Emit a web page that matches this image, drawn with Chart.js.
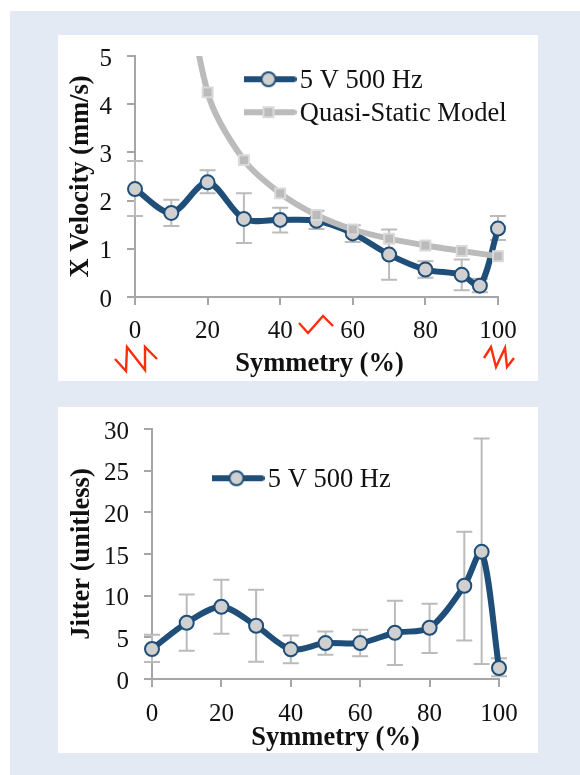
<!DOCTYPE html>
<html><head><meta charset="utf-8">
<script src="https://cdn.jsdelivr.net/npm/chart.js@4/dist/chart.umd.min.js"></script>
<style>
html,body{margin:0;padding:0;background:#fff;width:580px;height:775px;overflow:hidden}
#bg{position:absolute;left:10px;top:11px;width:570px;height:764px;background:#E3EAF4}
.p{position:absolute;left:58px;width:480px;background:#fff}
canvas{display:block}
svg{position:absolute;left:0;top:0;pointer-events:none}
</style></head><body>
<div id="bg"></div>
<div class="p" style="top:35px;height:346px"><canvas id="c1" width="480" height="346"></canvas></div>
<div class="p" style="top:407px;height:346px"><canvas id="c2" width="480" height="346"></canvas></div>
<svg width="580" height="775" fill="none" stroke="#FF2E0A" stroke-width="2.4">
<polyline points="115,359 126,371 127,347 145,370 145,347 157,359"/>
<polyline points="299,323 308,333 323,316 333,326"/>
<polyline points="484,358 491,347 496,367 505,348 507,367 514,358"/>
</svg>
<script>
const velSym=[0,10,20,30,40,50,60,70,80,90,95,100];
const velVal=[2.24,1.745,2.38,1.62,1.60,1.58,1.32,0.88,0.57,0.46,0.235,1.42];
const velHi=[2.82,2.02,2.63,2.15,1.85,1.79,1.49,1.40,0.74,0.78,0.38,1.68];
const velLo=[1.68,1.475,2.15,1.12,1.34,1.41,1.14,0.36,0.40,0.14,0.10,1.18];
const modelSym=[10,20,30,40,50,60,70,80,90,100];
const modelVal=[8.5,4.245,2.84,2.15,1.70,1.40,1.21,1.07,0.955,0.845];
const jitVal=[3.6,6.75,8.67,6.39,3.56,4.31,4.31,5.55,6.15,11.19,15.26,1.32];
const jitHi=[5.3,10.15,11.9,10.7,5.23,5.71,5.91,9.39,9.03,17.66,28.85,2.48];
const jitLo=[2.04,3.4,5.43,2.08,1.88,2.92,2.72,1.68,3.12,4.63,1.8,0.32];
const xTicks=[0,20,40,60,80,100];
const NAVY='#1F4E79',GREY='#BBBBBB',AXIS='#A6A6A6',MARK='#D0D0D0';
const FONT='"Liberation Serif"';
const zip=(a,b)=>a.map((x,i)=>({x,y:b[i]}));

function sample(kind){
  const c=document.createElement('canvas');c.width=56;c.height=25;const g=c.getContext('2d');
  g.lineCap='round';g.lineWidth=6;g.strokeStyle=kind==='m'?GREY:NAVY;
  g.beginPath();g.moveTo(3,11);g.lineTo(53,11);g.stroke();
  if(kind==='m'){g.fillStyle='#D9D9D9';g.fillRect(22,5,12,12);g.fillStyle=GREY;g.fillRect(24,7,8,8);}
  else{g.beginPath();g.arc(28,11,7,0,7);g.fillStyle=MARK;g.fill();g.lineWidth=2;g.stroke();}
  return c;
}
const errorBars={id:'errorBars',beforeDatasetsDraw(ch,_,o){
  const {ctx,scales:{x,y}}=ch;
  ctx.save();ctx.strokeStyle=GREY;ctx.lineWidth=2;
  o.sym.forEach((s,i)=>{
    const px=x.getPixelForValue(s),hi=y.getPixelForValue(o.hi[i]),lo=y.getPixelForValue(o.lo[i]);
    ctx.beginPath();ctx.moveTo(px,hi);ctx.lineTo(px,lo);
    ctx.moveTo(px-8,hi);ctx.lineTo(px+8,hi);ctx.moveTo(px-8,lo);ctx.lineTo(px+8,lo);ctx.stroke();
  });ctx.restore();
}};
const placer={id:'placer',afterLayout(ch,_,o){
  const l=ch.legend;l.left=o.lx;l.top=o.ly;l.right=ch.width;l.bottom=ch.height;
  const t=ch.scales.x;
  if(!t._wrapped){const d=t.drawTitle.bind(t);t._wrapped=true;
    t.drawTitle=function(){ch.ctx.save();ch.ctx.translate(o.tdx,o.tdy);d();ch.ctx.restore();};}
}};
function make(id,cfg){
  const tick={size:25,family:FONT};
  return new Chart(document.getElementById(id),{
    type:'line',
    data:{datasets:cfg.datasets},
    plugins:[errorBars,placer],
    options:{
      responsive:false,animation:false,
      layout:{padding:{left:cfg.left,right:cfg.right,top:cfg.top,bottom:0}},
      plugins:{
        tooltip:{enabled:false},
        errorBars:cfg.err,
        placer:{lx:cfg.lx,ly:cfg.ly,tdx:cfg.tdx,tdy:cfg.tdy},
        legend:{position:'chartArea',align:'start',
          labels:{usePointStyle:true,pointStyleWidth:36,boxHeight:22,padding:6.5,color:'#111',
            font:{size:26.5,family:FONT},
            generateLabels:(ch)=>ch.data.datasets.map((d,i)=>({text:d.label,pointStyle:sample(d.kind),datasetIndex:i,fontColor:'#111',lineWidth:0,strokeStyle:'transparent',fillStyle:'transparent'}))}}
      },
      scales:{
        x:{type:'linear',min:0,max:100,
          afterBuildTicks:s=>{s.ticks=xTicks.map(v=>({value:v}));},
          grid:{drawOnChartArea:false,color:AXIS,lineWidth:2,tickLength:8},
          border:{color:AXIS,width:2},
          ticks:{font:tick,color:'#111',padding:cfg.xpad,maxRotation:0,autoSkip:false},
          title:{display:true,text:'Symmetry (%)',color:'#111',font:{size:26.5,weight:'bold',family:FONT},padding:{top:0,bottom:cfg.xtb}},
          afterFit:s=>{s.height=cfg.xh;}
        },
        y:{min:0,max:cfg.ymax,
          grid:{drawOnChartArea:false,color:AXIS,lineWidth:2,tickLength:8},
          border:{color:AXIS,width:2},
          ticks:{stepSize:cfg.step,font:tick,color:'#111',padding:cfg.ypad,labelOffset:3},
          title:{display:true,text:cfg.ytitle,color:'#111',font:{size:26.5,weight:'bold',family:FONT},padding:{top:0,bottom:0}},
          afterFit:s=>{s.width=cfg.yw;s.paddingTop=0;s.paddingBottom=0;}
        }
      }
    }
  });
}
const navy=(label,data)=>({label,kind:'v',data,clip:false,borderColor:NAVY,borderWidth:6,tension:0.3,pointRadius:7,pointBorderWidth:2,pointBackgroundColor:MARK,pointBorderColor:NAVY,borderCapStyle:'round',order:2});
make('c1',{datasets:[
  navy('5 V 500 Hz',zip(velSym,velVal)),
  {label:'Quasi-Static Model',kind:'m',data:zip(modelSym,modelVal),clip:{left:10,right:12,top:0,bottom:10},borderColor:GREY,borderWidth:6,tension:0.3,pointStyle:'rect',pointRadius:7,pointBorderWidth:2,pointBackgroundColor:GREY,pointBorderColor:'#D9D9D9',order:1}
],err:{sym:velSym,hi:velHi,lo:velLo},left:7,right:40,top:21,ymax:5,step:1,ytitle:'X Velocity (mm/s)',yw:70,xh:84,xpad:11,xtb:1,ypad:15,lx:186,ly:26,tdx:3,tdy:0});
make('c2',{datasets:[navy('5 V 500 Hz',zip(velSym,jitVal))],
 err:{sym:velSym,hi:jitHi,lo:jitLo},left:8,right:39,top:22,ymax:30,step:5,ytitle:'Jitter (unitless)',yw:86,xh:74,xpad:12,xtb:0,ypad:15,lx:154,ly:53,tdx:10,tdy:1.5});
</script></body></html>
